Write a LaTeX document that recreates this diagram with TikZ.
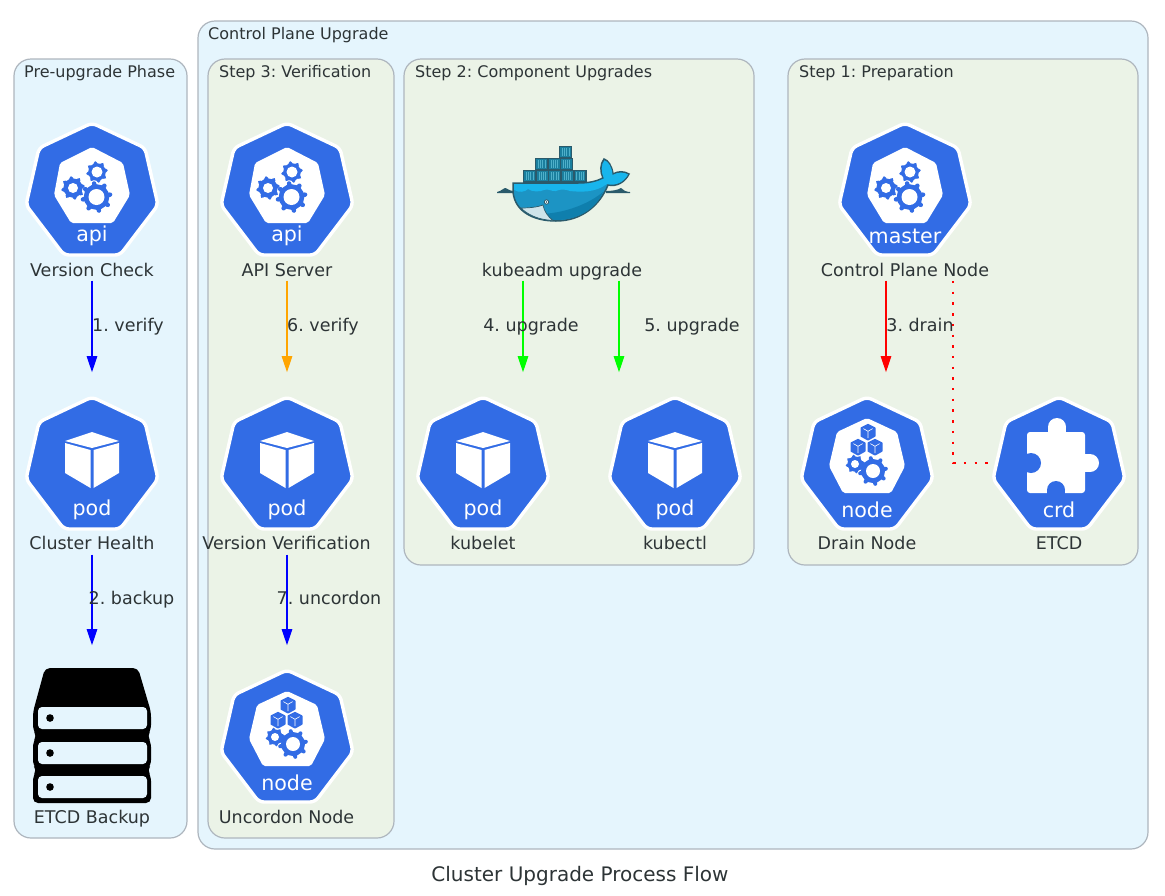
\documentclass[tikz,border=0pt]{standalone}
\usepackage{fontspec}
\setmainfont{DejaVu Sans}
\frenchspacing
\usetikzlibrary{arrows.meta,calc}
\definecolor{kblue}{HTML}{326CE5}
\definecolor{ctext}{HTML}{2D3436}
\definecolor{cpen}{HTML}{AEB6BE}
\definecolor{cone}{HTML}{E5F5FD}
\definecolor{ctwo}{HTML}{EBF3E7}
\definecolor{dkline}{HTML}{2A5A6B}
\definecolor{dkcell}{HTML}{1B7F9E}
\definecolor{dkstripe}{HTML}{4FB0CA}
\definecolor{dklight}{HTML}{18B5EC}
\definecolor{dkmid}{HTML}{1C94C4}
\definecolor{dkdeep}{HTML}{0F7FAD}
\definecolor{dkbelly}{HTML}{CFE4EA}
\definecolor{eblue}{HTML}{0000FF}
\definecolor{egreen}{HTML}{00FF00}
\definecolor{ered}{HTML}{FF0000}
\definecolor{eorange}{HTML}{FFA500}
\newcommand{\kgear}[5]{% x y outer-radius hole-radius tooth-width
  \foreach \a in {0,45,...,315}{\draw[kblue,line width=#5pt,shift={(#1,#2)},rotate=\a+10,line cap=round] (0,0)--({#3-#5/2},0);}
  \fill[kblue] (#1,#2) circle ({#3*0.8});
  \fill[white] (#1,#2) circle (#4);
}
\newcommand{\kcube}[3]{% x y half-width
  \begin{scope}[shift={(#1,#2)},scale=#3]
    \fill[kblue,rounded corners=.5pt] (0,-1.1)--(1,-.6)--(1,.6)--(0,1.15)--(-1,.6)--(-1,-.6)--cycle;
    \draw[white,line width=.6pt] (-.62,-.45)--(0,-.1)--(.62,-.45) (0,-.1)--(0,.8);
  \end{scope}
}
\tikzset{
  x=1pt,y=-1pt,
  cluster/.style={draw=cpen,line width=1.2pt,rounded corners=17pt},
  clusterlabel/.style={text=ctext,font=\fontsize{16}{19}\selectfont,anchor=base west,inner sep=0pt},
  cell/.style={minimum width=132pt,minimum height=183pt,inner sep=0pt,outer sep=0pt,draw=none},
  nodelabel/.style={text=ctext,font=\fontsize{17.5}{20}\selectfont,inner sep=0pt,anchor=base},
  edgelabel/.style={text=ctext,font=\fontsize{17.5}{20}\selectfont,inner sep=0pt,anchor=base},
  flow/.style={line width=1.2pt,shorten >=-.7pt,-{Triangle[length=16pt,width=10.5pt]}},
  icontext/.style={white,font=\fontsize{20.6}{24}\selectfont,inner sep=0pt},
  heptagon/.pic={
    \fill[kblue,draw=white,line width=3.4pt,rounded corners=5pt] (0,-66)--(53,-41)--(66,16)--(28,66)--(-28,66)--(-66,16)--(-53,-41)--cycle;
  },
  apiicon/.pic={
    \pic {heptagon};
    \fill[white,rounded corners=2pt] (0,-42)--(31,-26)--(38,6)--(21,34)--(-21,34)--(-38,6)--(-32,-26)--cycle;
    \kgear{5}{-17}{11}{5.5}{3.6}
    \kgear{-19}{-1}{12}{5}{3.8}
    \kgear{4.5}{8}{16}{8}{4.4}
    \node[icontext] (apitxt) at (0,47) {api};
  },
  masticon/.pic={
    \pic {heptagon};
    \fill[white,rounded corners=2pt] (0,-42)--(31,-26)--(38,6)--(21,34)--(-21,34)--(-38,6)--(-32,-26)--cycle;
    \kgear{5}{-17}{11}{5.5}{3.6}
    \kgear{-19}{-1}{12}{5}{3.8}
    \kgear{4.5}{8}{16}{8}{4.4}
    \node[icontext] (masttxt) at (0,47) {master};
  },
  podicon/.pic={
    \pic {heptagon};
    \fill[white] (0,-31)--(27,-22)--(0,-15)--(-27,-22)--cycle;
    \fill[white] (-27,-20)--(-1.5,-13)--(-1.5,25)--(-27,10)--cycle;
    \fill[white] (27,-20)--(1.5,-13)--(1.5,25)--(27,10)--cycle;
    \node[icontext] (podtxt) at (0,47) {pod};
  },
  nodeicon/.pic={
    \pic {heptagon};
    \fill[white,rounded corners=2pt] (0,-45)--(30,-31)--(38,3)--(24,30)--(-24,30)--(-38,3)--(-30,-31)--cycle;
    \kcube{1}{-31}{7.5}
    \kcube{-9}{-16}{7.5}
    \kcube{8}{-16}{7.5}
    \kgear{-12}{1}{9.5}{4}{3}
    \kgear{6}{8}{15}{7}{4}
    \node[icontext] (nodetxt) at (0,47) {node};
  },
  crdicon/.pic={
    \pic {heptagon};
    \fill[white,rounded corners=3pt] (-32,-31) rectangle (26,30);
    \fill[white] (-2,-36) circle (9);
    \fill[white] (-11,-36) rectangle (7,-28);
    \fill[white] (31,0) circle (9);
    \fill[white] (20,-9) rectangle (31,9);
    \fill[kblue] (-28,0) circle (10);
    \fill[kblue] (-3,27) circle (9);
    \fill[kblue] (-12,27) rectangle (6,34);
    \node[icontext] (crdtxt) at (0,47) {crd};
  },
  storeicon/.pic={
    \fill[black,rounded corners=5pt] (90,668)--(138,668)--(151,712)--(151,730)--(147,736)--(151,742)--(151,765)--(147,770)--(151,776)--(151,803)--(33,803)--(33,776)--(37,770)--(33,765)--(33,742)--(37,736)--(33,730)--(33,712)--(45,668)--cycle;
    \foreach \yy in {707,742,776}{
      \fill[cone,rounded corners=4pt] (38,\yy) rectangle (147,\yy+22);
      \fill[black] (50,\yy+11) circle (3.8);
    }
  },
  dockericon/.pic={
    % containers
    \foreach \cx/\cy in {559/146,535/158,547.6/158,559.6/158,523/170,535.6/170,548.2/170,560.8/170,573.4/170}{
      \fill[dkline] (\cx,\cy) rectangle ++(13.2,12.6);
      \fill[dkcell] (\cx+1.2,\cy+1.4) rectangle ++(10.8,9.8);
      \foreach \st in {3,5.2,7.4,9.6}{\fill[dkstripe] (\cx+\st,\cy+2.4) rectangle ++(.9,7.8);}
    }
    % waves
    \fill[dkline] (497,192)..controls (502,191) and (503,188)..(505,188)..controls (507,188) and (509,191)..(514,191)--(514,193)--(497,193)--cycle;
    \fill[dkline] (606,191)..controls (612,191) and (618,190)..(621,188)..controls (623,190) and (626,192)..(630,192)--(630,193)--(606,193)--cycle;
    % body
    \fill[dkmid,draw=dkline,line width=1.5pt] (513,183)--(513,192)..controls (515,212) and (534,221)..(556,221)..controls (582,221) and (600,205)..(608,185)..controls (617,187) and (625,182)..(629,174)..controls (624,171) and (618,171)..(613,174)..controls (612,166) and (608,160)..(604,159)..controls (600,164) and (600,172)..(603,178)..controls (597,181) and (590,183)..(578,183)--cycle;
    \fill[dklight] (514.2,184)--(514.2,190)..controls (519,193) and (525,192)..(528,189)..controls (532,192) and (540,192)..(544,190)..controls (548,188) and (552,192)..(556,191)..controls (560,189) and (565,189)..(570,191)..controls (580,192) and (595,193)..(607,184)..controls (616,186) and (624,182)..(628,174.5)..controls (624,172) and (618,172)..(612.5,175)..controls (612,167) and (608,161)..(604.5,160.5)..controls (601,165) and (601,172)..(604,178.5)..controls (597,182) and (590,184)..(578,184)--cycle;
    \fill[dkdeep] (538,214)..controls (565,214) and (590,203)..(603,192)..controls (596,209) and (578,220)..(556,220)..controls (549,220) and (543,218)..(538,214)--cycle;
    \fill[dkbelly,draw=dkline,line width=.7pt] (521,208)..controls (530,208) and (538,207)..(543,205)..controls (544,211) and (548,217)..(553,220.4)..controls (539,220) and (528,215)..(521,208)--cycle;
    \fill[white,draw=dkline,line width=.8pt] (546.5,202) circle (2.2);
    \fill[dkline] (546.5,202) circle (.9);
  }
}
\begin{document}
\begin{tikzpicture}
\useasboundingbox (0,0) rectangle (1165,895);
\fill[white] (0,0) rectangle (1165,895);
% clusters
\draw[cluster,fill=cone] (14,59) rectangle (187,838);
\draw[cluster,fill=cone] (198,21) rectangle (1148,849);
\draw[cluster,fill=ctwo] (208,59) rectangle (394,838);
\draw[cluster,fill=ctwo] (404,59) rectangle (754,565);
\draw[cluster,fill=ctwo] (788,59) rectangle (1138,565);
\node[clusterlabel] (lpre) at (24,77) {Pre-upgrade Phase};
\node[clusterlabel] (lcp) at (208,39) {Control Plane Upgrade};
\node[clusterlabel] (ls3) at (219,77) {Step 3: Verification};
\node[clusterlabel] (ls2) at (415,77) {Step 2: Component Upgrades};
\node[clusterlabel] (ls1) at (799,77) {Step 1: Preparation};
% node cells
\node[cell] (check) at (92,189) {};
\node[cell] (health) at (92,463) {};
\node[cell] (backup) at (92,736) {};
\node[cell] (apis) at (287,189) {};
\node[cell] (verif) at (287,463) {};
\node[cell] (uncord) at (287,736) {};
\node[cell] (kubeadm) at (562,189) {};
\node[cell] (kubelet) at (483,463) {};
\node[cell] (kubectl) at (675,463) {};
\node[cell] (cpn) at (905,189) {};
\node[cell] (drain) at (867,463) {};
\node[cell] (etcd) at (1059,463) {};
% icons
\pic at (check.center) {apiicon};
\pic at (health.center) {podicon};
\pic at (0,0) {storeicon};
\pic at (apis.center) {apiicon};
\pic at (verif.center) {podicon};
\pic at (uncord.center) {nodeicon};
\pic at (0,0) {dockericon};
\pic at (kubelet.center) {podicon};
\pic at (kubectl.center) {podicon};
\pic at (cpn.center) {masticon};
\pic at (drain.center) {nodeicon};
\pic at (etcd.center) {crdicon};
% labels
\node[nodelabel] (lcheck) at (92,276) {Version Check};
\node[nodelabel] (lhealth) at (92,549) {Cluster Health};
\node[nodelabel] (lbackup) at (92,823) {ETCD Backup};
\node[nodelabel] (lapis) at (287,276) {API Server};
\node[nodelabel] (lverif) at (286.5,549) {Version Verification};
\node[nodelabel] (luncord) at (286.5,823) {Uncordon Node};
\node[nodelabel] (lkubeadm) at (562,276) {kubeadm upgrade};
\node[nodelabel] (lkubelet) at (483,549) {kubelet};
\node[nodelabel] (lkubectl) at (675,549) {kubectl};
\node[nodelabel] (lcpn) at (905,276) {Control Plane Node};
\node[nodelabel] (ldrain) at (867,549) {Drain Node};
\node[nodelabel] (letcd) at (1059,549) {ETCD};
% connectors
\coordinate (kaL) at (523,280.5);
\coordinate (kaR) at (619,280.5);
\coordinate (ktL) at (523,371.5);
\coordinate (ktR) at (619,371.5);
\coordinate (cpS) at (886,280.5);
\coordinate (drT) at (886,371.5);
\coordinate (cpD) at (953.2,281);
\coordinate (etL) at (993,463);
\draw[flow,eblue] (check.south) -- (health.north);
\draw[flow,eblue] (health.south) -- (backup.north);
\draw[flow,eorange] (apis.south) -- (verif.north);
\draw[flow,eblue] (verif.south) -- (uncord.north);
\draw[flow,egreen] (kaL) -- (ktL);
\draw[flow,egreen] (kaR) -- (ktR);
\draw[flow,ered] (cpS) -- (drT);
\draw[ered,line width=1.8pt,dash pattern=on 2.4pt off 8.3pt] (cpD) |- (etL);
% edge labels
\node[edgelabel] (e1) at (128,331) {1. verify};
\node[edgelabel] (e2) at (131.5,604) {2. backup};
\node[edgelabel] (e6) at (323,331) {6. verify};
\node[edgelabel] (e7) at (329,604) {7. uncordon};
\node[edgelabel] (e4) at (531,331) {4. upgrade};
\node[edgelabel] (e5) at (692,331) {5. upgrade};
\node[edgelabel] (e3) at (920,331) {3. drain};
% title
\node[text=ctext,font=\fontsize{20}{24}\selectfont,inner sep=0pt,anchor=base] (title) at (580,881) {Cluster Upgrade Process Flow};
\end{tikzpicture}
\end{document}
